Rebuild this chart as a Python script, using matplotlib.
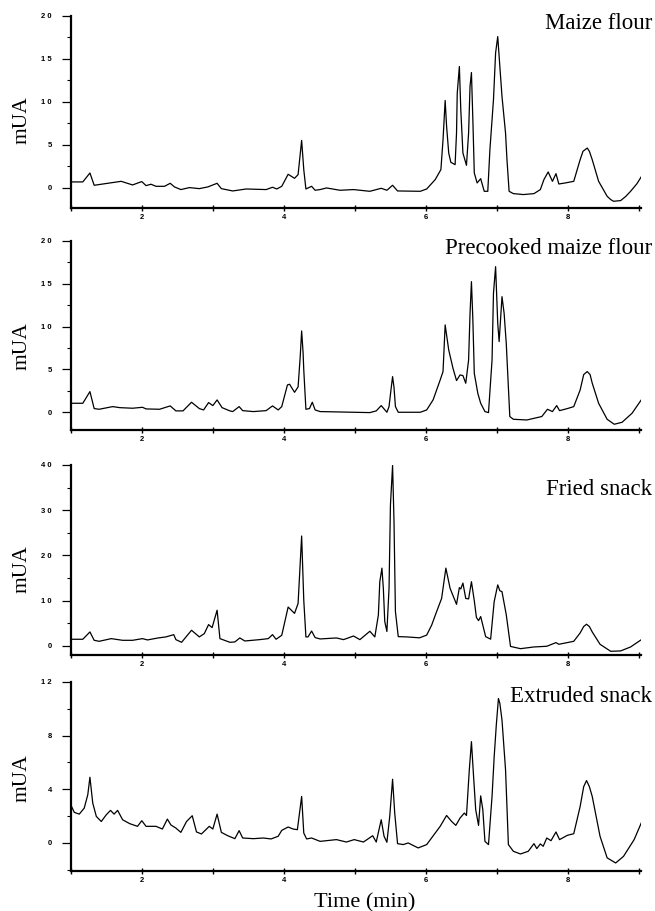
import matplotlib
matplotlib.use("Agg")
import matplotlib.pyplot as plt
from matplotlib.ticker import MultipleLocator, FuncFormatter

# chromatogram traces (time in min, signal in mUA)
maize_t = [1.00, 1.17, 1.27, 1.33, 1.71, 1.87, 2.00, 2.06, 2.13, 2.20, 2.32, 2.40, 2.46, 2.55,
           2.67, 2.81, 2.93, 3.06, 3.12, 3.28, 3.47, 3.75, 3.84, 3.90, 3.97, 4.06, 4.15, 4.20,
           4.25, 4.28, 4.31, 4.39, 4.44, 4.51, 4.60, 4.79, 4.98, 5.21, 5.37, 5.45, 5.53, 5.60,
           5.92, 6.01, 6.13, 6.21, 6.24, 6.27, 6.29, 6.32, 6.35, 6.41, 6.43, 6.44, 6.47, 6.49,
           6.52, 6.57, 6.60, 6.62, 6.64, 6.66, 6.68, 6.72, 6.77, 6.82, 6.87, 6.90, 6.95, 6.98,
           7.01, 7.04, 7.07, 7.12, 7.14, 7.17, 7.23, 7.37, 7.52, 7.61, 7.66, 7.72, 7.78, 7.83,
           7.87, 7.96, 8.08, 8.17, 8.21, 8.27, 8.30, 8.34, 8.43, 8.55, 8.60, 8.64, 8.74, 8.81,
           8.88, 8.97, 9.04]
maize_y = [0.70, 0.70, 1.74, 0.31, 0.77, 0.35, 0.74, 0.27, 0.43, 0.19, 0.19, 0.54, 0.12, -0.19,
           0.04, -0.08, 0.12, 0.54, -0.08, -0.35, -0.12, -0.19, 0.08, -0.12, 0.19, 1.59, 1.12, 1.55,
           5.53, 2.13, -0.12, 0.19, -0.27, -0.19, 0.00, -0.27, -0.19, -0.39, -0.04, -0.27, 0.31, -0.35,
           -0.39, -0.12, 0.97, 2.13, 5.60, 10.17, 7.20, 4.07, 2.98, 2.71, 6.40, 11.00, 14.12, 9.10,
           4.06, 2.63, 6.40, 11.80, 13.42, 7.90, 1.74, 0.58, 1.08, -0.39, -0.39, 4.46, 10.25, 15.70,
           17.60, 14.10, 10.64, 6.38, 3.30, -0.39, -0.66, -0.77, -0.66, -0.19, 0.97, 1.86, 0.77, 1.66,
           0.46, 0.58, 0.77, 3.29, 4.26, 4.64, 4.26, 3.29, 0.77, -0.97, -1.35, -1.55, -1.47, -1.00,
           -0.39, 0.50, 1.43]

precooked_t = [1.00, 1.17, 1.27, 1.33, 1.40, 1.59, 1.69, 1.87, 2.01, 2.06, 2.25, 2.40, 2.48, 2.58,
               2.70, 2.81, 2.87, 2.94, 3.00, 3.06, 3.13, 3.24, 3.28, 3.37, 3.42, 3.57, 3.75, 3.84,
               3.92, 3.97, 4.05, 4.08, 4.15, 4.20, 4.23, 4.25, 4.27, 4.28, 4.31, 4.36, 4.40, 4.44,
               4.51, 4.98, 5.21, 5.30, 5.37, 5.45, 5.48, 5.51, 5.53, 5.55, 5.57, 5.61, 5.92, 6.01,
               6.10, 6.20, 6.24, 6.27, 6.32, 6.38, 6.43, 6.48, 6.52, 6.56, 6.60, 6.62, 6.64, 6.66,
               6.68, 6.73, 6.77, 6.83, 6.88, 6.93, 6.95, 6.98, 7.01, 7.03, 7.07, 7.10, 7.13, 7.18,
               7.23, 7.42, 7.63, 7.71, 7.78, 7.84, 7.88, 7.99, 8.08, 8.17, 8.22, 8.27, 8.31, 8.34,
               8.43, 8.55, 8.65, 8.76, 8.90, 9.04]
precooked_y = [1.05, 1.05, 2.41, 0.43, 0.35, 0.66, 0.54, 0.47, 0.58, 0.39, 0.35, 0.74, 0.16, 0.16,
               1.17, 0.43, 0.27, 1.13, 0.78, 1.44, 0.54, 0.16, 0.08, 0.66, 0.19, 0.08, 0.19, 0.74,
               0.27, 0.66, 3.19, 3.27, 2.33, 2.96, 6.50, 9.49, 7.00, 4.94, 0.35, 0.43, 1.17, 0.27,
               0.08, 0.00, -0.04, 0.16, 0.78, 0.00, 0.66, 2.80, 4.16, 2.90, 0.66, 0.00, 0.00, 0.27,
               1.44, 3.77, 4.75, 10.20, 7.28, 5.14, 3.70, 4.36, 4.28, 3.39, 6.10, 11.50, 15.25, 10.80,
               4.55, 2.20, 1.05, 0.08, -0.04, 6.10, 13.90, 17.00, 10.40, 8.25, 13.50, 11.55, 8.05, -0.50,
               -0.82, -0.90, -0.50, 0.35, 0.08, 0.78, 0.19, 0.43, 0.66, 2.60, 4.40, 4.75, 4.40, 3.40,
               1.05, -0.82, -1.40, -1.17, -0.12, 1.56]

fried_t = [1.00, 1.17, 1.27, 1.33, 1.40, 1.57, 1.73, 1.87, 2.01, 2.08, 2.23, 2.34, 2.45, 2.48,
           2.56, 2.70, 2.81, 2.88, 2.94, 2.99, 3.06, 3.10, 3.24, 3.31, 3.38, 3.45, 3.66, 3.78,
           3.84, 3.89, 3.97, 4.06, 4.15, 4.20, 4.25, 4.28, 4.31, 4.34, 4.39, 4.44, 4.51, 4.74,
           4.84, 4.98, 5.07, 5.21, 5.28, 5.33, 5.35, 5.38, 5.40, 5.42, 5.45, 5.48, 5.50, 5.53,
           5.55, 5.57, 5.61, 5.73, 5.91, 6.01, 6.08, 6.15, 6.22, 6.28, 6.34, 6.43, 6.47, 6.49,
           6.52, 6.56, 6.60, 6.64, 6.68, 6.71, 6.74, 6.77, 6.84, 6.91, 6.96, 7.01, 7.04, 7.07,
           7.13, 7.19, 7.33, 7.52, 7.70, 7.83, 7.87, 8.08, 8.17, 8.22, 8.26, 8.30, 8.34, 8.45,
           8.60, 8.74, 8.88, 9.04]
fried_y = [1.48, 1.48, 3.10, 1.25, 1.03, 1.62, 1.25, 1.25, 1.62, 1.33, 1.77, 2.00, 2.50, 1.40,
           0.81, 3.47, 2.00, 2.73, 4.72, 4.06, 7.90, 1.62, 0.81, 0.89, 1.77, 1.10, 1.40, 1.62,
           2.50, 1.48, 2.36, 8.60, 7.20, 9.40, 24.30, 10.10, 2.00, 2.00, 3.30, 1.85, 1.55, 1.77,
           1.40, 2.20, 1.40, 3.25, 2.00, 6.85, 14.20, 17.20, 12.70, 5.40, 3.20, 12.70, 31.20, 39.90,
           27.50, 7.60, 2.06, 2.00, 1.80, 2.40, 4.60, 7.60, 10.50, 17.20, 12.70, 9.20, 12.90, 12.60,
           13.90, 10.50, 10.40, 14.20, 10.00, 6.30, 5.60, 6.50, 2.06, 1.50, 9.80, 13.50, 12.20, 12.00,
           6.90, -0.10, -0.60, -0.22, -0.07, 0.74, 0.37, 1.03, 2.88, 4.30, 4.80, 4.30, 3.10, 0.37,
           -1.18, -1.10, -0.22, 1.48]

extruded_t = [1.00, 1.05, 1.12, 1.19, 1.24, 1.27, 1.31, 1.36, 1.43, 1.50, 1.56, 1.61, 1.66, 1.73,
              1.83, 1.94, 2.00, 2.06, 2.20, 2.29, 2.36, 2.41, 2.48, 2.55, 2.63, 2.71, 2.77, 2.84,
              2.95, 3.00, 3.06, 3.12, 3.21, 3.31, 3.37, 3.42, 3.57, 3.71, 3.82, 3.92, 3.97, 4.06,
              4.13, 4.19, 4.25, 4.28, 4.32, 4.39, 4.51, 4.74, 4.88, 4.99, 5.12, 5.25, 5.30, 5.37,
              5.41, 5.45, 5.49, 5.53, 5.56, 5.60, 5.68, 5.75, 5.89, 6.01, 6.13, 6.20, 6.29, 6.36,
              6.42, 6.48, 6.54, 6.57, 6.61, 6.64, 6.67, 6.70, 6.74, 6.77, 6.80, 6.83, 6.88, 6.93,
              6.96, 6.99, 7.02, 7.04, 7.07, 7.12, 7.16, 7.23, 7.33, 7.44, 7.52, 7.56, 7.61, 7.65,
              7.70, 7.76, 7.83, 7.88, 7.99, 8.08, 8.17, 8.22, 8.26, 8.30, 8.34, 8.45, 8.55, 8.67,
              8.78, 8.93, 9.04]
extruded_y = [2.85, 2.28, 2.15, 2.60, 3.60, 4.90, 2.97, 1.98, 1.60, 2.10, 2.43, 2.15, 2.43, 1.73,
              1.44, 1.24, 1.66, 1.24, 1.24, 1.04, 1.78, 1.34, 1.11, 0.79, 1.60, 2.03, 0.82, 0.67,
              1.24, 1.04, 2.15, 0.79, 0.54, 0.32, 0.92, 0.37, 0.32, 0.37, 0.30, 0.50, 0.94, 1.19,
              1.04, 0.99, 3.47, 0.74, 0.30, 0.37, 0.12, 0.25, 0.07, 0.25, 0.07, 0.54, 0.07, 1.73,
              0.50, 0.05, 1.98, 4.75, 2.23, -0.05, -0.12, 0.00, -0.37, -0.12, 0.74, 1.24, 2.05, 1.61,
              1.31, 1.86, 2.23, 2.05, 5.45, 7.55, 4.95, 2.48, 1.31, 3.51, 2.48, 0.12, -0.12, 3.47,
              6.43, 8.80, 10.77, 10.40, 9.16, 5.45, -0.12, -0.62, -0.82, -0.62, -0.05, -0.42, -0.07, -0.25,
              0.37, 0.17, 0.82, 0.25, 0.57, 0.69, 2.72, 4.20, 4.65, 4.20, 3.47, 0.50, -1.11, -1.49,
              -1.00, 0.25, 1.61]

titles = ["Maize flour", "Precooked maize flour", "Fried snack", "Extruded snack"]
traces = [(maize_t, maize_y), (precooked_t, precooked_y), (fried_t, fried_y), (extruded_t, extruded_y)]
ylims = [(-2.33, 20), (-2.07, 20), (-2.0, 40), (-2.09, 12)]
ymajor = [5, 5, 10, 4]

# layout (figure fractions), title anchor and label heights in axes coords
boxes = [[0.108, 0.7717, 0.871, 0.2108],
         [0.108, 0.5280, 0.871, 0.2075],
         [0.108, 0.2810, 0.871, 0.2086],
         [0.108, 0.0439, 0.871, 0.2075]]
title_y = [0.932, 0.930, 0.842, 0.893]
label_y = [0.458, 0.446, 0.453, 0.494]

serif = "Liberation Serif"

fig = plt.figure(figsize=(6.55, 9.11), dpi=100)

def spaced(v, pos):
    return " ".join(str(int(round(v))))

for i in range(4):
    ax = fig.add_axes(boxes[i])
    t, y = traces[i]
    ax.plot(t, y, color="black", lw=0.9)
    ax.set_xlim(1, 9.03)
    ax.set_ylim(*ylims[i])
    for s in ["top", "right"]:
        ax.spines[s].set_visible(False)
    for s in ["left", "bottom"]:
        ax.spines[s].set_linewidth(1.6)
    ax.xaxis.set_major_locator(MultipleLocator(2))
    ax.xaxis.set_minor_locator(MultipleLocator(1))
    ax.yaxis.set_minor_locator(MultipleLocator(ymajor[i] / 2))
    ax.set_yticks([v for v in range(0, int(ylims[i][1]) + 1, ymajor[i])])
    ax.yaxis.set_major_formatter(FuncFormatter(spaced))
    ax.tick_params(axis="y", which="major", direction="out", length=6.5, width=0.9, pad=7)
    ax.tick_params(axis="y", which="minor", direction="out", length=3, width=0.8)
    ax.tick_params(axis="x", which="both", direction="inout", length=4, width=1.0, pad=2)
    for lab in ax.get_xticklabels() + ax.get_yticklabels():
        lab.set_fontfamily("Liberation Sans")
        lab.set_fontweight("bold")
        lab.set_fontsize(5.5)
    ax.text(1.019, title_y[i], titles[i], transform=ax.transAxes, ha="right", va="baseline",
            fontsize=16.5, family=serif)
    ax.text(-0.085, label_y[i], "mUA", transform=ax.transAxes, ha="center", va="center",
            rotation=90, fontsize=15.5, family=serif)

fig.text(365 / 655, 1 - 907 / 911, "Time (min)", ha="center", va="baseline",
         fontsize=16, family=serif)

fig.savefig("out.png", dpi=100)
